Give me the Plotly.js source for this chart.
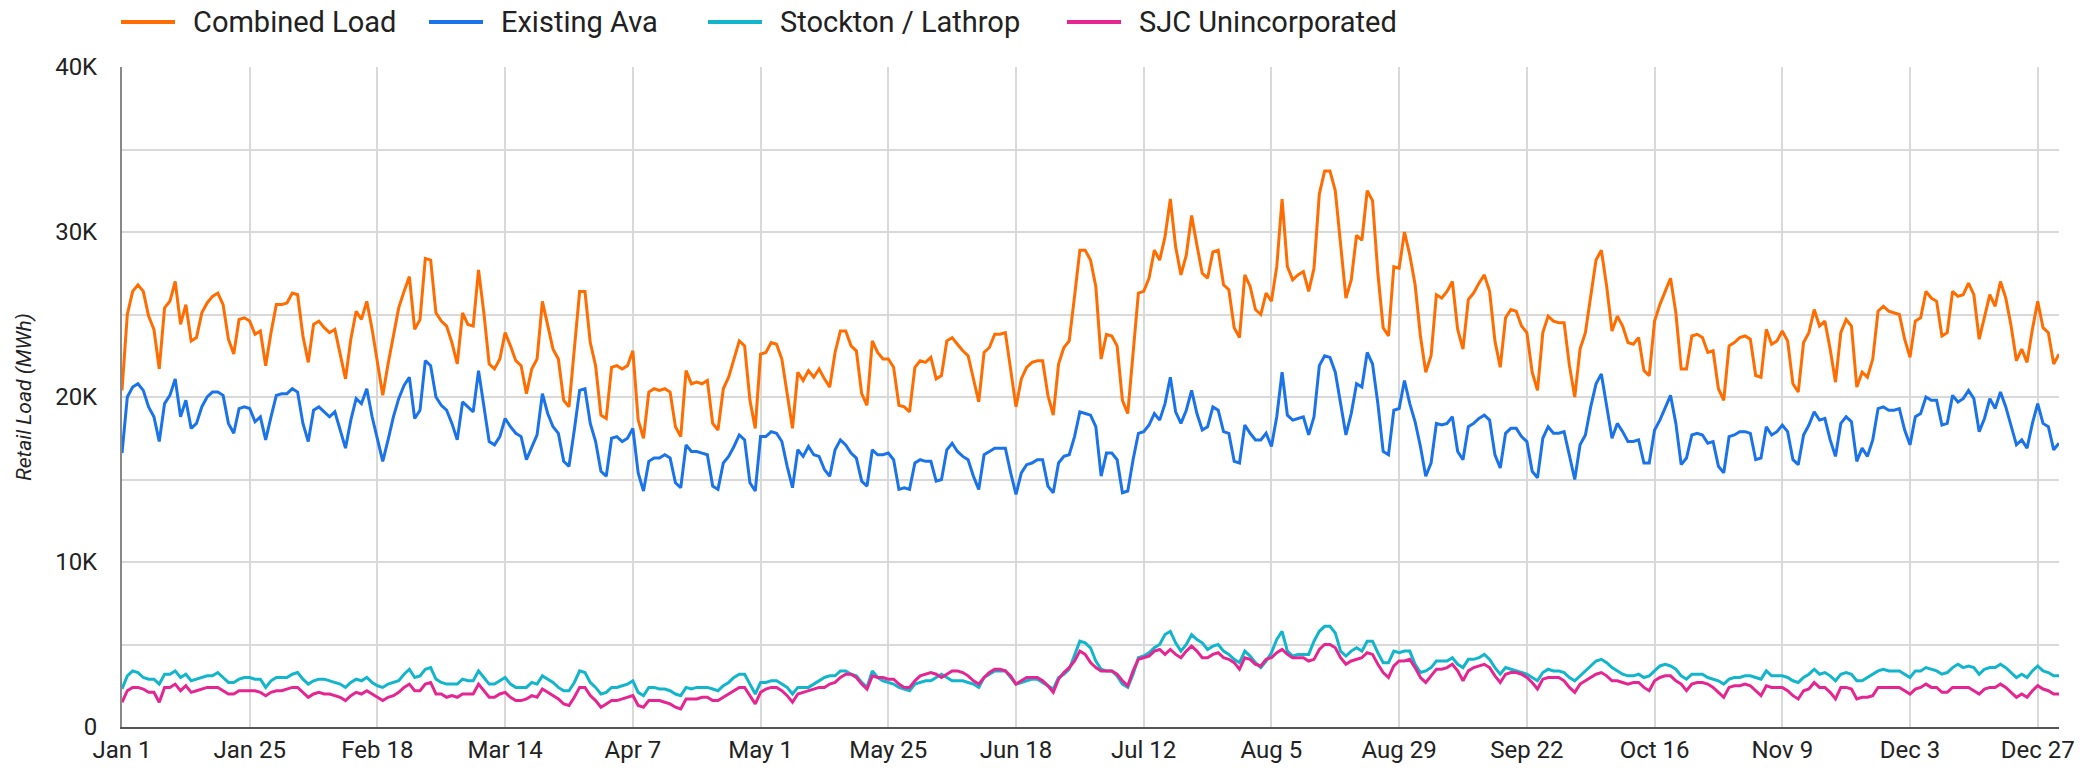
<!DOCTYPE html>
<html>
<head>
<meta charset="utf-8">
<script src="https://cdn.plot.ly/plotly-3.0.1.min.js"></script>
<style>
  html, body { margin: 0; padding: 0; background: #ffffff; }
  #chart { width: 2090px; height: 768px; }
</style>
</head>
<body>
<div id="chart"></div>
<script>
// Daily retail load, Jan 1 – Dec 31 (values in thousand MWh)
const startDate = [2023, 0, 1];

const combinedLoad = [
  20.4,25.0,26.4,26.8,26.4,24.9,24.1,21.7,25.4,25.8,
  27.0,24.4,25.6,23.4,23.6,25.1,25.7,26.1,26.3,25.6,
  23.5,22.6,24.7,24.8,24.6,23.8,24.0,21.9,23.9,25.6,
  25.6,25.7,26.3,26.2,23.7,22.1,24.4,24.6,24.2,23.9,
  24.1,22.7,21.1,23.5,25.2,24.7,25.8,24.1,22.0,20.1,
  22.0,23.7,25.4,26.4,27.3,24.1,24.7,28.4,28.3,25.1,
  24.6,24.3,23.3,22.0,25.1,24.4,24.3,27.7,25.1,22.0,
  21.7,22.3,23.9,23.1,22.2,21.9,20.2,21.7,22.3,25.8,
  24.3,22.9,22.3,19.8,19.4,22.7,26.4,26.4,23.3,21.9,
  18.9,18.7,21.8,21.9,21.7,21.9,22.8,18.6,17.5,20.3,
  20.5,20.4,20.5,20.3,18.2,17.6,21.6,20.8,20.9,20.8,
  21.0,18.4,18.0,20.5,21.2,22.3,23.4,23.1,19.8,18.1,
  22.6,22.7,23.3,23.2,22.3,20.2,18.1,21.5,21.0,21.6,
  21.2,21.7,21.1,20.6,22.7,24.0,24.0,23.1,22.8,20.2,
  19.5,23.4,22.7,22.3,22.3,21.8,19.5,19.4,19.1,21.8,
  22.2,22.1,22.4,21.1,21.3,23.4,23.6,23.2,22.8,22.5,
  21.1,19.7,22.7,23.0,23.8,23.8,23.9,21.7,19.4,21.1,
  21.8,22.1,22.2,22.2,20.1,18.9,22.0,23.0,23.4,26.1,
  28.9,28.9,28.3,26.7,22.3,23.8,23.7,23.1,19.8,19.0,
  22.7,26.3,26.4,27.2,28.9,28.3,29.7,32.0,29.1,27.4,
  28.6,31.0,29.2,27.5,27.2,28.8,28.9,26.8,26.5,24.2,
  23.6,27.4,26.7,25.3,25.0,26.3,25.8,27.9,32.0,27.9,
  27.1,27.4,27.6,26.4,27.8,32.3,33.7,33.7,32.5,29.3,
  26.0,27.1,29.8,29.5,32.5,31.9,27.5,24.2,23.7,27.9,
  27.8,30.0,28.6,26.8,23.7,21.5,22.5,26.2,26.0,26.4,
  27.0,24.1,22.9,25.9,26.3,26.9,27.4,26.4,23.4,21.8,
  24.8,25.3,25.2,24.3,23.9,21.5,20.4,23.9,24.9,24.6,
  24.5,24.5,21.9,20.0,22.9,23.9,26.1,28.3,28.9,26.7,
  24.0,24.9,24.3,23.3,23.2,23.6,21.6,21.3,24.6,25.6,
  26.4,27.2,25.1,21.7,21.7,23.7,23.8,23.6,22.7,22.8,
  20.5,19.8,23.1,23.3,23.6,23.7,23.5,21.3,21.2,24.1,
  23.2,23.4,24.0,23.4,20.8,20.3,23.3,23.9,25.3,24.3,
  24.6,22.9,20.9,23.9,24.7,24.3,20.6,21.5,21.2,22.3,
  25.2,25.5,25.2,25.1,25.0,23.5,22.4,24.6,24.8,26.4,
  26.0,25.8,23.7,23.9,26.4,26.1,26.2,26.9,26.2,23.5,
  24.8,26.2,25.5,27.0,26.0,24.3,22.2,22.9,22.1,24.1,
  25.8,24.2,23.9,22.0,22.6
];

const existingAva = [
  16.6,20.0,20.6,20.8,20.4,19.4,18.8,17.3,19.6,20.1,
  21.1,18.8,19.8,18.1,18.4,19.4,20.0,20.3,20.3,20.1,
  18.4,17.8,19.3,19.4,19.3,18.5,18.8,17.4,18.8,20.1,
  20.2,20.2,20.5,20.3,18.4,17.3,19.2,19.4,19.1,18.8,
  19.1,18.0,16.9,18.6,19.9,19.6,20.5,18.8,17.4,16.1,
  17.4,18.8,19.9,20.7,21.2,18.7,19.2,22.2,21.9,20.0,
  19.5,19.2,18.4,17.4,19.7,19.4,19.1,21.6,19.4,17.3,
  17.1,17.6,18.7,18.2,17.8,17.6,16.2,17.0,17.7,20.2,
  19.0,18.2,17.8,16.1,15.8,18.0,20.4,20.5,18.4,17.3,
  15.5,15.2,17.5,17.6,17.3,17.5,18.1,15.4,14.3,16.1,
  16.3,16.3,16.5,16.3,14.8,14.5,17.1,16.7,16.7,16.6,
  16.5,14.6,14.4,16.0,16.4,17.0,17.7,17.4,14.8,14.3,
  17.6,17.6,17.9,17.8,17.3,15.8,14.5,16.8,16.4,17.0,
  16.5,16.4,15.6,15.2,16.8,17.4,17.1,16.6,16.3,14.9,
  14.6,16.8,16.5,16.5,16.6,16.2,14.4,14.5,14.4,16.0,
  16.2,16.1,16.1,14.9,15.0,16.8,17.2,16.7,16.4,16.2,
  15.2,14.4,16.5,16.7,16.9,16.9,16.9,15.4,14.1,15.4,
  15.9,16.0,16.2,16.2,14.6,14.2,16.0,16.4,16.5,17.6,
  19.1,19.0,18.9,18.2,15.2,16.6,16.6,16.2,14.2,14.3,
  16.2,17.8,17.9,18.3,19.0,18.6,19.6,21.2,19.1,18.4,
  19.2,20.4,19.0,18.0,18.2,19.4,19.2,17.9,17.8,16.1,
  16.0,18.3,17.8,17.4,17.4,17.8,17.0,18.8,21.5,18.9,
  18.6,18.7,18.8,17.7,18.8,21.9,22.5,22.4,21.5,19.6,
  17.7,19.0,20.8,20.6,22.7,22.0,19.6,16.7,16.5,19.2,
  19.3,21.0,19.6,18.5,17.0,15.2,16.0,18.4,18.3,18.4,
  18.8,16.7,16.2,18.2,18.4,18.7,18.9,18.6,16.5,15.7,
  17.8,18.1,18.1,17.6,17.3,15.5,15.1,17.5,18.2,17.8,
  17.8,17.9,16.4,15.0,17.1,17.7,19.4,20.8,21.4,19.4,
  17.5,18.4,17.9,17.3,17.3,17.4,16.0,16.0,18.0,18.6,
  19.3,20.1,18.4,15.9,16.3,17.7,17.8,17.7,17.2,17.3,
  15.8,15.4,17.6,17.7,17.9,17.9,17.8,16.2,16.3,18.2,
  17.7,17.9,18.3,17.9,16.2,15.9,17.7,18.3,19.1,18.6,
  18.7,17.4,16.4,18.4,18.8,18.5,16.1,16.9,16.4,17.4,
  19.3,19.4,19.2,19.2,19.3,18.0,17.1,18.8,19.0,20.0,
  19.8,19.8,18.3,18.4,20.1,19.7,19.9,20.4,19.9,17.9,
  18.7,19.9,19.3,20.3,19.4,18.2,17.1,17.4,16.9,18.4,
  19.6,18.4,18.2,16.8,17.2
];

const stocktonLathrop = [
  2.3,3.1,3.4,3.3,3.0,2.9,2.9,2.6,3.2,3.2,
  3.4,3.0,3.2,2.8,2.9,3.0,3.1,3.1,3.3,3.0,
  2.7,2.7,2.9,3.0,3.0,2.9,2.9,2.4,2.8,3.0,
  3.0,3.0,3.2,3.3,2.9,2.6,2.8,2.9,2.9,2.8,
  2.7,2.6,2.4,2.7,2.9,2.8,3.0,2.7,2.5,2.4,
  2.6,2.7,2.8,3.2,3.5,3.0,3.1,3.5,3.6,2.9,
  2.7,2.6,2.6,2.6,2.9,2.8,2.8,3.4,3.0,2.6,
  2.6,2.8,3.0,2.6,2.4,2.4,2.4,2.7,2.6,3.1,
  2.9,2.7,2.4,2.2,2.2,2.7,3.4,3.3,2.7,2.4,
  2.0,2.1,2.4,2.4,2.5,2.6,2.8,2.1,1.9,2.4,
  2.4,2.3,2.3,2.2,2.0,1.9,2.4,2.3,2.4,2.4,
  2.4,2.3,2.2,2.5,2.7,3.0,3.2,3.2,2.6,2.0,
  2.7,2.7,2.8,2.8,2.6,2.4,2.0,2.4,2.4,2.4,
  2.6,2.8,3.0,3.1,3.1,3.4,3.4,3.2,3.1,2.7,
  2.4,3.4,3.0,2.8,2.7,2.6,2.4,2.3,2.2,2.6,
  2.7,2.8,2.8,3.0,3.2,3.0,2.8,2.8,2.8,2.7,
  2.6,2.4,3.0,3.2,3.4,3.4,3.4,3.0,2.6,2.7,
  2.8,2.9,2.9,2.7,2.5,2.3,3.0,3.2,3.5,4.3,
  5.2,5.1,4.8,4.0,3.5,3.4,3.4,3.1,2.6,2.4,
  3.2,4.2,4.3,4.5,4.8,5.0,5.6,5.8,5.1,4.6,
  5.0,5.6,5.3,5.1,4.7,4.9,5.0,4.6,4.4,4.1,
  3.9,4.6,4.3,3.9,3.6,4.0,4.5,5.3,5.8,4.6,
  4.3,4.4,4.4,4.4,5.2,5.8,6.1,6.1,5.7,4.6,
  4.3,4.6,4.8,4.6,5.2,5.2,4.5,3.9,3.9,4.6,
  4.5,4.6,4.6,3.8,3.3,3.4,3.6,4.0,4.0,4.0,
  4.2,3.8,3.6,4.1,4.1,4.2,4.4,4.1,3.6,3.2,
  3.6,3.5,3.4,3.3,3.2,3.0,2.8,3.3,3.5,3.4,
  3.4,3.3,3.0,2.8,3.1,3.4,3.7,4.0,4.1,3.9,
  3.6,3.4,3.2,3.1,3.1,3.2,3.0,3.1,3.4,3.7,
  3.8,3.7,3.5,3.1,2.9,3.2,3.2,3.2,3.0,2.9,
  2.8,2.6,2.9,3.0,3.0,3.1,3.1,3.0,2.9,3.4,
  3.1,3.1,3.1,3.0,2.8,2.7,3.0,3.2,3.5,3.2,
  3.3,3.1,2.8,3.2,3.3,3.2,2.8,2.8,3.0,3.2,
  3.4,3.5,3.4,3.4,3.4,3.2,3.0,3.4,3.4,3.6,
  3.5,3.4,3.2,3.3,3.6,3.8,3.6,3.7,3.6,3.2,
  3.5,3.6,3.6,3.8,3.6,3.3,3.0,3.2,3.0,3.4,
  3.7,3.4,3.3,3.1,3.1
];

const sjcUnincorporated = [
  1.5,2.2,2.4,2.4,2.3,2.1,2.1,1.5,2.4,2.4,
  2.6,2.2,2.5,2.1,2.2,2.3,2.4,2.4,2.4,2.2,
  2.0,2.0,2.2,2.2,2.2,2.2,2.1,1.9,2.1,2.2,
  2.2,2.3,2.4,2.4,2.1,1.8,2.0,2.1,2.0,2.0,
  1.9,1.8,1.6,1.9,2.1,2.0,2.2,2.0,1.8,1.6,
  1.8,1.9,2.1,2.4,2.6,2.2,2.2,2.6,2.7,2.0,
  2.0,1.8,1.9,1.8,2.0,2.0,2.0,2.6,2.2,1.8,
  1.8,2.0,2.1,1.8,1.6,1.6,1.7,1.9,1.8,2.3,
  2.1,1.9,1.7,1.4,1.3,1.8,2.4,2.4,1.9,1.6,
  1.2,1.4,1.6,1.6,1.7,1.8,1.9,1.3,1.2,1.6,
  1.6,1.6,1.5,1.4,1.2,1.1,1.7,1.7,1.7,1.8,
  1.8,1.6,1.6,1.8,2.0,2.2,2.4,2.4,1.9,1.4,
  2.1,2.3,2.4,2.4,2.2,1.9,1.5,2.0,2.1,2.2,
  2.3,2.4,2.4,2.6,2.7,3.0,3.2,3.2,3.0,2.6,
  2.3,3.1,3.0,3.0,2.9,2.9,2.6,2.4,2.4,2.8,
  3.1,3.2,3.3,3.2,3.0,3.2,3.4,3.4,3.3,3.1,
  2.8,2.6,3.0,3.3,3.5,3.5,3.4,3.1,2.6,2.8,
  3.0,3.0,3.0,2.8,2.5,2.1,2.9,3.3,3.6,4.0,
  4.6,4.4,3.9,3.6,3.4,3.4,3.4,3.2,2.8,2.5,
  3.4,4.1,4.2,4.3,4.6,4.7,4.4,4.7,4.4,4.2,
  4.6,4.9,4.6,4.2,4.2,4.4,4.5,4.2,4.1,3.9,
  3.5,4.2,4.1,3.8,3.7,4.1,4.2,4.5,4.7,4.4,
  4.2,4.2,4.2,4.0,4.1,4.7,5.0,5.0,4.8,4.2,
  3.8,4.0,4.1,4.2,4.5,4.4,3.8,3.3,3.0,3.7,
  4.0,4.0,4.1,3.6,3.0,2.7,3.1,3.5,3.5,3.6,
  3.8,3.4,2.8,3.4,3.6,3.7,3.8,3.6,3.1,2.7,
  3.2,3.3,3.3,3.2,3.0,2.7,2.3,2.9,3.0,3.0,
  3.0,2.8,2.4,2.1,2.6,2.8,3.0,3.2,3.3,3.1,
  2.8,2.8,2.7,2.6,2.7,2.7,2.4,2.2,2.8,3.0,
  3.1,3.1,2.8,2.6,2.2,2.6,2.7,2.7,2.6,2.4,
  2.1,1.8,2.4,2.5,2.5,2.6,2.5,2.2,1.9,2.5,
  2.4,2.4,2.4,2.2,1.9,1.7,2.2,2.3,2.7,2.4,
  2.4,2.1,1.7,2.4,2.4,2.3,1.7,1.8,1.8,1.9,
  2.4,2.4,2.4,2.4,2.4,2.2,2.0,2.3,2.4,2.6,
  2.4,2.4,2.1,2.1,2.4,2.4,2.4,2.4,2.2,2.0,
  2.3,2.4,2.4,2.6,2.4,2.1,1.8,2.0,1.8,2.2,
  2.5,2.3,2.2,2.0,2.0
];

const seriesNames = ['Combined Load', 'Existing Ava', 'Stockton / Lathrop', 'SJC Unincorporated'];
const seriesColors = ['#ff6d00', '#1a73e8', '#12b5cb', '#e52592'];

const xTickLabels = ['Jan 1','Jan 25','Feb 18','Mar 14','Apr 7','May 1','May 25','Jun 18',
                     'Jul 12','Aug 5','Aug 29','Sep 22','Oct 16','Nov 9','Dec 3','Dec 27'];
const tickStepDays = 24;
const yTickValues = [0, 10000, 20000, 30000, 40000];
const yTickLabels = ['0', '10K', '20K', '30K', '40K'];

function dayString(offset) {
  const d = new Date(Date.UTC(startDate[0], startDate[1], startDate[2] + offset));
  return d.toISOString().slice(0, 10);
}

const nDays = combinedLoad.length;
const dates = [];
for (let i = 0; i < nDays; i++) dates.push(dayString(i));
const xTickVals = xTickLabels.map((_, i) => dayString(i * tickStepDays));

const seriesValues = [combinedLoad, existingAva, stocktonLathrop, sjcUnincorporated];
const traces = seriesValues.map((vals, k) => ({
  type: 'scatter',
  mode: 'lines',
  name: seriesNames[k],
  x: dates,
  y: vals.map(v => v * 1000),
  line: { color: seriesColors[k], width: 3 },
  hoverinfo: 'x+y+name',
  showlegend: false
}));

// Page geometry (pixels) used to place the legend above the plot
const W = 2090, H = 768;
const M = { l: 122, r: 31, t: 67, b: 41 };
const plotW = W - M.l - M.r, plotH = H - M.t - M.b;
const px = X => (X - M.l) / plotW;
const py = Y => (H - M.b - Y) / plotH;

// Legend: line samples and labels (left edge of each sample, in page pixels)
const legendLeft = [121, 429, 708, 1067];
const legendLineLen = 54, legendTextGap = 16, legendY = 22;

const shapes = [], annotations = [];
seriesNames.forEach((name, k) => {
  shapes.push({
    type: 'line', xref: 'paper', yref: 'paper',
    x0: px(legendLeft[k]), x1: px(legendLeft[k] + legendLineLen),
    y0: py(legendY), y1: py(legendY),
    line: { color: seriesColors[k], width: 4 }
  });
  annotations.push({
    text: name, showarrow: false, xref: 'paper', yref: 'paper',
    x: px(legendLeft[k] + legendLineLen + legendTextGap), y: py(legendY),
    xanchor: 'left', yanchor: 'middle',
    font: { family: 'Roboto, Arial, sans-serif', size: 29, color: '#212121' }
  });
});

const layout = {
  width: W,
  height: H,
  paper_bgcolor: '#ffffff',
  plot_bgcolor: '#ffffff',
  margin: { l: M.l, r: M.r, t: M.t, b: M.b, pad: 0 },
  font: { family: 'Roboto, Arial, sans-serif', color: '#222222', size: 24 },
  showlegend: false,
  shapes: shapes,
  annotations: annotations,
  xaxis: {
    type: 'date',
    range: [dates[0], dates[nDays - 1]],
    tickmode: 'array',
    tickvals: xTickVals,
    ticktext: xTickLabels,
    showgrid: true,
    gridcolor: '#d9d9d9',
    gridwidth: 2,
    showline: true,
    linecolor: '#555555',
    linewidth: 2,
    ticks: '',
    ticklabelstandoff: 0,
    tickfont: { family: 'Roboto, Arial, sans-serif', size: 24, color: '#222222' },
    zeroline: false,
    fixedrange: true
  },
  yaxis: {
    range: [0, 40000],
    tickmode: 'array',
    tickvals: yTickValues,
    ticktext: yTickLabels,
    showgrid: true,
    gridcolor: '#d9d9d9',
    gridwidth: 2,
    minor: { dtick: 5000, tick0: 0, showgrid: true, gridcolor: '#d9d9d9', gridwidth: 2, ticks: '' },
    showline: true,
    linecolor: '#888888',
    linewidth: 2,
    ticks: '',
    ticklabelstandoff: 18,
    tickfont: { family: 'Roboto, Arial, sans-serif', size: 24, color: '#222222' },
    zeroline: false,
    fixedrange: true,
    title: {
      text: '<i>Retail Load (MWh)</i>',
      font: { family: 'Roboto, Arial, sans-serif', size: 21, color: '#222222' },
      standoff: 18
    }
  }
};

Plotly.newPlot('chart', traces, layout, { displayModeBar: false, responsive: false });
</script>
</body>
</html>
